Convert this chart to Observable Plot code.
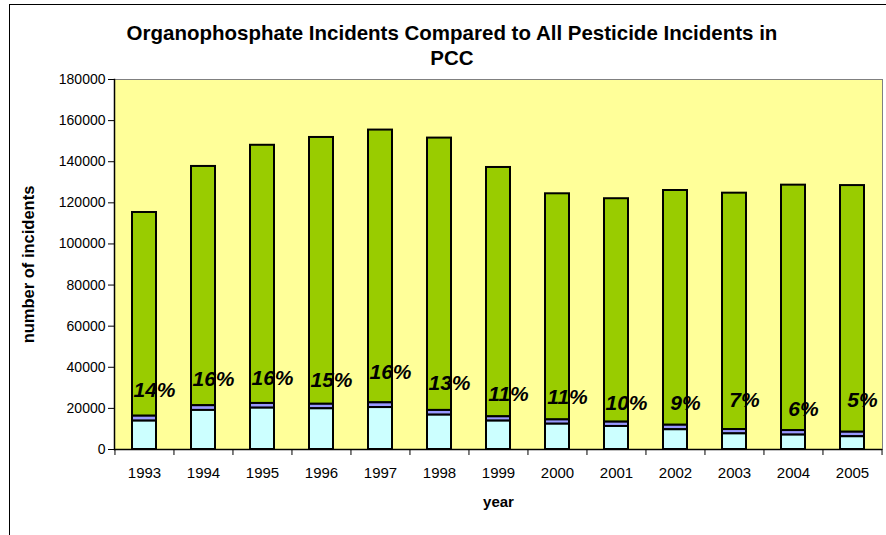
<!DOCTYPE html>
<html><head><meta charset="utf-8">
<script src="https://cdn.jsdelivr.net/npm/d3@7"></script>
<script src="https://cdn.jsdelivr.net/npm/@observablehq/plot@0.6"></script>
<style>
body{margin:0;background:#fff;font-family:"Liberation Sans",Arial,sans-serif;}
#wrap{position:relative;width:886px;height:535px;overflow:hidden;}
#border{position:absolute;left:9px;top:4px;width:900px;height:560px;border:1px solid #000;}
#title{position:absolute;left:0;top:20px;width:904px;text-align:center;font-weight:bold;font-size:20.5px;line-height:25px;color:#000;}
#chart{position:absolute;left:0;top:0;}
</style></head><body>
<div id="wrap"><div id="border"></div><div id="chart"></div><div id="title">Organophosphate Incidents Compared to All Pesticide Incidents in<br>PCC</div></div>
<script>
const years = ["1993","1994","1995","1996","1997","1998","1999","2000","2001","2002","2003","2004","2005"];
const totals = [115300,137700,148000,151800,155400,151500,137200,124400,122000,126000,124700,128600,128400];
const opTotals = [16200,21300,22400,22000,22700,19000,15900,14400,13300,11800,9700,9200,8400];
const cyanVals = [13800,19000,20100,19800,20400,16700,13800,12300,11200,9600,7600,7000,6200];
const pctLabels = ["14%","16%","16%","15%","16%","13%","11%","11%","10%","9%","7%","6%","5%"];
const labelY = [28700,34300,34500,33600,37500,32100,26800,25300,22400,22400,23800,19500,23800];
const yTicks = [0,20000,40000,60000,80000,100000,120000,140000,160000,180000];

const data = years.map((y,i)=>({year:y,total:totals[i],op:opTotals[i],cyan:cyanVals[i],pct:pctLabels[i],ly:labelY[i]}));
const W = 886, ML = 114, MR = 4;
const step = (W - ML - MR) / years.length;

const chart = Plot.plot({
  width: W, height: 535,
  marginTop: 79, marginBottom: 86, marginLeft: ML, marginRight: MR,
  style: {fontFamily: "'Liberation Sans', Arial, sans-serif", fontSize: "14px", color: "#000", background: "transparent"},
  x: {domain: years, paddingInner: 0.59, paddingOuter: 0.295, axis: null},
  y: {domain: [0,180000], axis: null},
  marks: [
    Plot.frame({fill: "#FFFF99", stroke: "#808080"}),
    Plot.barY(data, {x: "year", y1: "op", y2: "total", fill: "#99CC00", stroke: "#000", strokeWidth: 2}),
    Plot.barY(data, {x: "year", y1: "cyan", y2: "op", fill: "#9999FF", stroke: "#000", strokeWidth: 2}),
    Plot.barY(data, {x: "year", y1: 0, y2: "cyan", fill: "#CCFFFF", stroke: "#000", strokeWidth: 2}),
    Plot.ruleY([0], {stroke: "#000", strokeWidth: 1.5}),
    Plot.frame({anchor: "left", stroke: "#000", strokeWidth: 1.5}),
    Plot.axisY({ticks: yTicks, tickSize: 6, tickPadding: 3, tickFormat: d => String(d), label: null, fontSize: 14}),
    Plot.axisX({tickSize: 0, tickPadding: 18, label: null, fontSize: 15}),
    Plot.axisX({tickSize: 6, tickFormat: () => "", dx: -step/2, label: null}),
    Plot.axisX({ticks: ["2005"], tickSize: 6, tickFormat: () => "", dx: step/2, label: null}),
    Plot.text(data, {x: "year", y: "ly", text: "pct", dx: 10, fontSize: 21, fontWeight: "bold", fontStyle: "italic"}),
    Plot.text(["number of incidents"], {frameAnchor: "left", textAnchor: "middle", rotate: -90, dx: -86, fontWeight: "bold", fontSize: 16.5}),
    Plot.text(["year"], {frameAnchor: "bottom", dy: 57, fontWeight: "bold", fontSize: 15})
  ]
});
document.getElementById("chart").appendChild(chart);
</script>
</body></html>
